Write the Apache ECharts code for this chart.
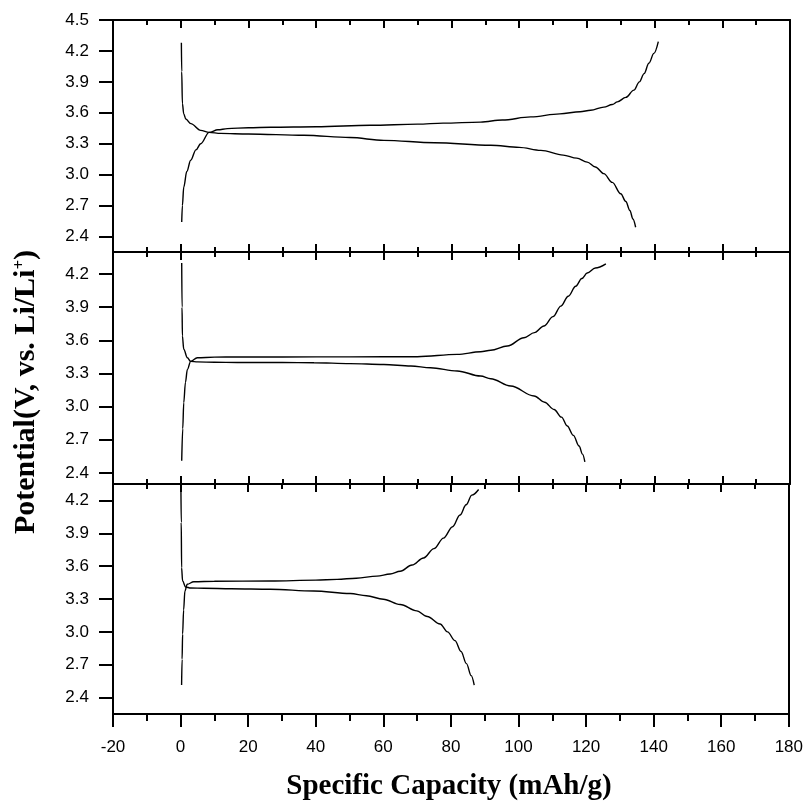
<!DOCTYPE html>
<html>
<head>
<meta charset="utf-8">
<script src="https://cdn.jsdelivr.net/npm/echarts@6/dist/echarts.min.js"></script>
<style>html,body{margin:0;padding:0;background:#fff}#c{width:806px;height:803px}</style>
</head>
<body>
<div id="c"></div>
<script>
// ---- data (Specific capacity mAh/g, Potential V) ----
const xTicks = [-20, 0, 20, 40, 60, 80, 100, 120, 140, 160, 180];
const yTicksTop = [2.4, 2.7, 3.0, 3.3, 3.6, 3.9, 4.2, 4.5];
const yTicksLower = [2.4, 2.7, 3.0, 3.3, 3.6, 3.9, 4.2];

// panel 1 (top)
const p1ChargeCap = [0.3, 0.5, 0.9, 1.8, 2.95, 4.5, 5.9, 8.4, 11, 13.8, 20, 26.6, 40, 56, 70, 77.5, 88.6, 95, 103.4, 112, 118, 121.1, 125, 127.5, 129, 131.5, 133.9, 135.5, 136.9, 138.3, 139.8, 141.1];
const p1ChargeV   = [2.54, 2.70, 2.88, 3.03, 3.14, 3.24, 3.30, 3.41, 3.435, 3.447, 3.455, 3.46, 3.465, 3.479, 3.49, 3.50, 3.51, 3.53, 3.56, 3.59, 3.61, 3.625, 3.655, 3.68, 3.706, 3.75, 3.82, 3.90, 3.98, 4.08, 4.176, 4.29];
const p1DischCap  = [0.2, 0.3, 0.5, 0.9, 1.5, 3.0, 5.9, 8.4, 11.8, 20, 36.4, 50, 60, 75, 91.6, 100, 106.4, 113, 117, 120.1, 122.5, 125, 127.5, 130, 131.5, 132.7, 133.6, 134.4];
const p1DischV    = [4.28, 4.0, 3.69, 3.59, 3.54, 3.495, 3.43, 3.41, 3.40, 3.395, 3.382, 3.36, 3.333, 3.31, 3.285, 3.265, 3.236, 3.19, 3.16, 3.122, 3.075, 3.01, 2.925, 2.815, 2.74, 2.653, 2.57, 2.49];

// panel 2 (middle)
const p2ChargeCap = [0.3, 0.6, 0.9, 1.4, 1.97, 2.95, 4.9, 10, 16.7, 30, 50, 69.9, 81.7, 88.6, 91.6, 96.5, 101.4, 104.5, 107.3, 110, 112.3, 114.5, 116.7, 118.5, 120.1, 122.5, 125.6];
const p2ChargeV   = [2.51, 2.80, 3.036, 3.22, 3.337, 3.41, 3.443, 3.448, 3.45, 3.45, 3.451, 3.452, 3.473, 3.497, 3.51, 3.549, 3.624, 3.67, 3.73, 3.815, 3.91, 4.0, 4.09, 4.16, 4.21, 4.255, 4.293];
const p2DischCap  = [0.3, 0.4, 0.5, 0.9, 1.97, 2.95, 5, 10, 16.7, 30, 39.4, 50, 60, 68, 73.8, 81.7, 88.6, 91.6, 97.5, 104.4, 107.5, 110.3, 112.5, 114.2, 116, 117.7, 118.7, 119.4];
const p2DischV    = [4.30, 3.9, 3.64, 3.52, 3.443, 3.41, 3.405, 3.402, 3.40, 3.40, 3.398, 3.39, 3.382, 3.368, 3.352, 3.323, 3.277, 3.253, 3.187, 3.097, 3.04, 2.975, 2.905, 2.825, 2.74, 2.644, 2.57, 2.50];

// panel 3 (bottom)
const p3ChargeCap = [0.3, 0.45, 0.6, 0.9, 1.28, 1.97, 3.9, 10, 26.6, 40, 46.3, 52, 58.1, 62, 65, 68.5, 71.9, 75, 77.8, 80.5, 82.7, 84.5, 86.2, 88.2];
const p3ChargeV   = [2.514, 2.75, 2.98, 3.2, 3.373, 3.434, 3.458, 3.462, 3.464, 3.472, 3.479, 3.49, 3.509, 3.528, 3.554, 3.61, 3.675, 3.76, 3.856, 3.96, 4.067, 4.16, 4.248, 4.30];
const p3DischCap  = [0.1, 0.2, 0.3, 0.6, 1.48, 3, 6.9, 15, 26.6, 39.4, 50.2, 55, 60, 65, 69.9, 73, 76.8, 79, 81.2, 83, 84.6, 86, 86.9];
const p3DischV    = [4.32, 4.0, 3.585, 3.464, 3.41, 3.40, 3.398, 3.394, 3.389, 3.373, 3.35, 3.33, 3.298, 3.25, 3.192, 3.14, 3.072, 3.00, 2.92, 2.82, 2.71, 2.60, 2.514];

const xTitle = 'Specific Capacity (mAh/g)';
const yTitleMain = 'Potential(V, vs. Li/Li';
const yTitleSup = '+';

// ---- build ----
const zip = (a, b) => a.map((v, i) => [v, b[i]]);
const black = '#000';
const LW = 2;

const grids = [
  {left: 113, right: 16, top: 20, height: 232},
  {left: 113, right: 16, top: 252, height: 232},
  {left: 113, right: 16, top: 484, height: 230}
];

function xAx(gridIndex, position, inside, showLabel, len, mlen) {
  return {
    type: 'value', gridIndex, position, min: xTicks[0], max: xTicks[xTicks.length - 1], interval: 20,
    axisLine: {show: true, onZero: false, lineStyle: {color: black, width: LW}},
    axisTick: {show: true, inside, length: len, lineStyle: {color: black, width: LW}},
    minorTick: {show: true, splitNumber: 2, length: mlen, lineStyle: {color: black, width: LW}},
    splitLine: {show: false},
    axisLabel: {show: showLabel, margin: 25, color: black, fontSize: 17, fontFamily: 'Liberation Sans'}
  };
}
const xAxes = [
  xAx(0, 'bottom', true, false, 8, 5),
  xAx(0, 'top', true, false, 8, 5),
  xAx(1, 'bottom', true, false, 8, 5),
  xAx(1, 'top', true, false, 8, 5),
  xAx(2, 'bottom', false, true, 13, 7),
  xAx(2, 'top', true, false, 8, 5)
];

function yAx(gridIndex, min, max, ticks) {
  return {
    type: 'value', gridIndex, min, max, position: 'left',
    axisLine: {show: true, onZero: false, lineStyle: {color: black, width: LW}},
    axisTick: {show: true, inside: false, length: 14, customValues: ticks, lineStyle: {color: black, width: LW}},
    axisLabel: {show: true, customValues: ticks, margin: 24, color: black, fontSize: 17, fontFamily: 'Liberation Sans',
      formatter: v => Number(v).toFixed(1)},
    splitLine: {show: false}
  };
}
function yRight(gridIndex, min, max) {
  return {
    type: 'value', gridIndex, min, max, position: 'right',
    axisLine: {show: true, onZero: false, lineStyle: {color: black, width: LW}},
    axisTick: {show: false}, axisLabel: {show: false}, splitLine: {show: false}
  };
}
const yAxes = [
  yAx(0, 2.25, 4.5, yTicksTop),
  yAx(1, 2.3, 4.4, yTicksLower),
  yAx(2, 2.25, 4.35, yTicksLower),
  yRight(0, 2.25, 4.5),
  yRight(1, 2.3, 4.4),
  yRight(2, 2.25, 4.35)
];

function ser(xi, yi, cap, v) {
  return {type: 'line', xAxisIndex: xi, yAxisIndex: yi, data: zip(cap, v), showSymbol: false, symbol: 'none',
    smooth: 0.35, smoothMonotone: 'x', lineStyle: {color: black, width: 1.4}, silent: true, animation: false};
}
const series = [
  ser(0, 0, p1ChargeCap, p1ChargeV), ser(0, 0, p1DischCap, p1DischV),
  ser(2, 1, p2ChargeCap, p2ChargeV), ser(2, 1, p2DischCap, p2DischV),
  ser(4, 2, p3ChargeCap, p3ChargeV), ser(4, 2, p3DischCap, p3DischV)
];

const chart = echarts.init(document.getElementById('c'), null, {renderer: 'canvas'});
chart.setOption({
  animation: false,
  backgroundColor: '#fff',
  grid: grids,
  xAxis: xAxes,
  yAxis: yAxes,
  series,
  graphic: [
    {type: 'text', x: 449, y: 787, style: {text: xTitle, font: 'bold 29px "Liberation Serif"', fill: black, align: 'center', verticalAlign: 'middle'}},
    {type: 'text', x: 26, y: 392, rotation: Math.PI / 2,
      style: {text: '{a|' + yTitleMain + '}{s|' + yTitleSup + '}{a|)}', align: 'center', verticalAlign: 'middle',
        rich: {a: {font: 'bold 30px "Liberation Serif"', fill: black},
               s: {font: 'bold 17px "Liberation Serif"', fill: black, verticalAlign: 'top', padding: [0, 0, 10, 0]}}}}
  ]
});
</script>
</body>
</html>
